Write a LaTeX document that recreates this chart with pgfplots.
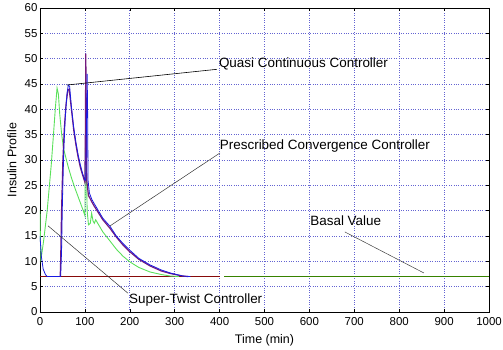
\documentclass[border=0pt]{standalone}
\usepackage{pgfplots}
\pgfplotsset{compat=1.18}
\usepackage{fontspec}
\setmainfont{Liberation Sans}
\definecolor{gridblue}{RGB}{100,100,210}
\definecolor{qcblue}{RGB}{25,25,225}
\definecolor{pcpurple}{RGB}{115,25,125}
\definecolor{stgreen}{RGB}{90,225,90}
\definecolor{basalgreen}{RGB}{55,130,0}
\definecolor{basered}{RGB}{135,10,10}
\begin{document}
\begin{tikzpicture}
\path[use as bounding box] (-40bp,-38bp) rectangle (463bp,312bp);
\begin{axis}[
  at={(0,0)}, anchor=south west,
  scale only axis, width=449bp, height=304bp,
  xmin=0, xmax=1000, ymin=0, ymax=60,
  xtick={0,100,...,1000}, ytick={0,5,...,60},
  grid=major,
  major grid style={gridblue, dotted, line width=0.7pt},
  axis line style={black, line width=0.6pt},
  tick style={black, line width=0.5pt},
  major tick length=3bp,
  tick align=inside,
  /pgf/number format/assume math mode=true,
  /pgf/number format/set thousands separator={},
  scaled ticks=false,
  xticklabel style={font=\fontsize{11.5}{13}\selectfont, yshift=-1.5bp},
  yticklabel style={font=\fontsize{11.5}{13}\selectfont, xshift=1bp},
  xlabel={Time (min)}, ylabel={Insulin Profile},
  label style={font=\fontsize{12.5}{14}\selectfont},
  xlabel style={at={(axis description cs:0.5,0)}, anchor=center, yshift=-28bp},
  ylabel style={at={(axis description cs:0,0.5)}, anchor=center, yshift=28bp},
  clip=true,
]
% baseline segments
\addplot[basered, line width=0.9pt] coordinates {(0,7) (400,7)};
\addplot[basalgreen, line width=1.3pt] coordinates {(410,7) (1000,7)};
% Super-Twist (green)
\addplot[stgreen, line width=0.9pt] coordinates {
(0,20)(1,14)(2,10.5)(4,11.5)(8,14)(12,17)(16,20)(20,24)(25,29)(30,35)(34,40)(38,44.2)
(41,43)(44,39)(48,35.3)(52,32.5)(56,31)(63,28.6)(70,26.5)(78,24.4)(88,22)(96,20.1)(100,19)
(101,30)(102,41)(103,30)(105,20)(108,17.2)(112,17.5)(115,19.5)(118,18)(121,17.5)(124,18.2)(128,17.6)
(140,15.8)(156,14)(170,12.4)(185,11)(200,9.9)(220,8.8)(245,7.9)(270,7.4)(290,7.1)(310,7)};
% Prescribed Convergence (purple/red)
\addplot[pcpurple, line width=1.2pt] coordinates {
(45,7)(46,10)(48,20)(51,30)(54,36)(58,41)(62,43.8)(65,44)(70,40)(75,36)(80,33)(85,30.5)(90,28.5)
(95,27)(100,25.6)(101,35)(102,51)(103,40)(104,26)(108,23)(115,21.8)(120,21)(130,19.6)(140,18.2)
(156,16.5)(170,14.8)(185,13.2)(200,11.9)(220,10.4)(245,9.1)(270,8.1)(290,7.6)(318,7.1)(330,7)};
% Quasi Continuous (blue)
\addplot[qcblue, line width=0.8pt] coordinates {
(0,15)(3,11)(7,8.5)(12,7.4)(16,7)(46,7)(48,12)(50,22)(53,32)(56,38)(60,43)(63,44.8)(66,44.5)
(70,40.5)(75,36.5)(80,33.5)(85,31)(90,29)(95,27.3)(100,26)(102,26)(104,40)(105,47)(106,40)(107,26)
(110,23.5)(115,22.3)(120,21.5)(130,20)(140,18.5)(156,16.9)(170,15)(185,13.5)(200,12.2)(220,10.6)
(245,9.3)(270,8.3)(290,7.7)(318,7.1)(335,7)};
% annotations
\draw[black, line width=0.6pt] (axis cs:60,44.8) -- (axis cs:394,47.9);
\node[anchor=west, font=\fontsize{13.5}{15}\selectfont, inner sep=1pt] at (axis cs:396,48.9) {Quasi Continuous Controller};
\draw[black!80, line width=0.5pt] (axis cs:156,17) -- (axis cs:401,31.4);
\node[anchor=west, font=\fontsize{13.5}{15}\selectfont, inner sep=1pt] at (axis cs:398,32.7) {Prescribed Convergence Controller};
\draw[black!80, line width=0.5pt] (axis cs:18,17) -- (axis cs:196,3.7);
\node[anchor=west, font=\fontsize{13.5}{15}\selectfont, inner sep=1pt] at (axis cs:196,2.4) {Super-Twist Controller};
\draw[black!75, line width=0.5pt] (axis cs:679,15.8) -- (axis cs:855,7.7);
\node[font=\fontsize{13.5}{15}\selectfont, inner sep=1pt] at (axis cs:681,18) {Basal Value};
\end{axis}
\end{tikzpicture}
\end{document}
